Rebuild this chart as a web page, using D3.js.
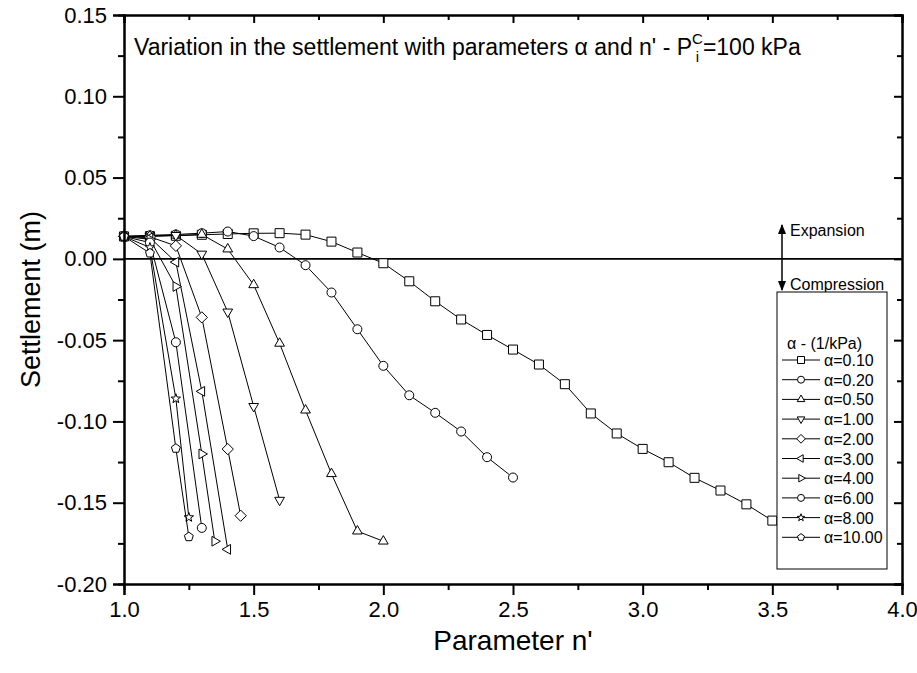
<!DOCTYPE html>
<html>
<head>
<meta charset="utf-8">
<script src="https://cdn.jsdelivr.net/npm/d3@7/dist/d3.min.js"></script>
<style>
  body { margin: 0; background: #fff; }
  svg { font-family: "Liberation Sans", Arial, sans-serif; }
  .axis path, .axis line { stroke: #000; }
</style>
</head>
<body>
<svg width="917" height="673"></svg>
<script>
// values (n' vs settlement in m)
var n_a010 = [1.0,1.1,1.2,1.3,1.4,1.5,1.6,1.7,1.8,1.9,2.0,2.1,2.2,2.3,2.4,2.5,2.6,2.7,2.8,2.9,3.0,3.1,3.2,3.3,3.4,3.5];
var s_a010 = [0.0138,0.0140,0.0142,0.0148,0.0153,0.0157,0.0158,0.0149,0.0106,0.0039,-0.0027,-0.0138,-0.0261,-0.0373,-0.0468,-0.0558,-0.0650,-0.0771,-0.0951,-0.1074,-0.1169,-0.1251,-0.1347,-0.1425,-0.1510,-0.1610];
var n_a020 = [1.0,1.1,1.2,1.3,1.4,1.5,1.6,1.7,1.8,1.9,2.0,2.1,2.2,2.3,2.4,2.5];
var s_a020 = [0.0138,0.0145,0.0150,0.0158,0.0168,0.0140,0.0070,-0.0039,-0.0207,-0.0433,-0.0658,-0.0839,-0.0947,-0.1062,-0.1220,-0.1345];
var n_a050 = [1.0,1.1,1.2,1.3,1.4,1.5,1.6,1.7,1.8,1.9,2.0];
var s_a050 = [0.0138,0.0140,0.0145,0.0150,0.0060,-0.0160,-0.0520,-0.0931,-0.1322,-0.1675,-0.1737];
var n_a100 = [1.0,1.1,1.2,1.3,1.4,1.5,1.6];
var s_a100 = [0.0138,0.0140,0.0145,0.0030,-0.0326,-0.0907,-0.1484];
var n_a200 = [1.0,1.1,1.2,1.3,1.4,1.45];
var s_a200 = [0.0138,0.0135,0.0080,-0.0360,-0.1170,-0.1580];
var n_a300 = [1.0,1.1,1.2,1.3,1.4];
var s_a300 = [0.0138,0.0130,-0.0020,-0.0815,-0.1787];
var n_a400 = [1.0,1.1,1.2,1.3,1.35];
var s_a400 = [0.0138,0.0120,-0.0170,-0.1200,-0.1737];
var n_a600 = [1.0,1.1,1.2,1.3];
var s_a600 = [0.0138,0.0100,-0.0513,-0.1655];
var n_a800 = [1.0,1.1,1.2,1.25];
var s_a800 = [0.0138,0.0070,-0.0860,-0.1590];
var n_a1000 = [1.0,1.1,1.2,1.25];
var s_a1000 = [0.0138,0.0035,-0.1166,-0.1710];

var seriesLabels = ["α=0.10","α=0.20","α=0.50","α=1.00","α=2.00","α=3.00","α=4.00","α=6.00","α=8.00","α=10.00"];
var seriesMarkers = ["square","circle","triUp","triDown","diamond","triLeft","triRight","circle","star","pentagon"];
var xTicks = [1.0,1.5,2.0,2.5,3.0,3.5,4.0];
var yTicks = [-0.20,-0.15,-0.10,-0.05,0.00,0.05,0.10,0.15];

var seriesN = [n_a010,n_a020,n_a050,n_a100,n_a200,n_a300,n_a400,n_a600,n_a800,n_a1000];
var seriesS = [s_a010,s_a020,s_a050,s_a100,s_a200,s_a300,s_a400,s_a600,s_a800,s_a1000];

var svg = d3.select("svg");
var L = 124, R = 902, T = 15, B = 584;

var x = d3.scaleLinear().domain([1, 4]).range([L, R]);
var y = d3.scaleLinear().domain([-0.2, 0.15]).range([B, T]);

// marker shapes, r ~ half size
function markerPath(type, r) {
  var p = d3.path();
  if (type == "square") { p.rect(-r, -r, 2*r, 2*r); }
  else if (type == "circle") { p.arc(0, 0, r, 0, 2*Math.PI); p.closePath(); }
  else if (type == "diamond") { p.moveTo(0,-r*1.25); p.lineTo(r*1.25,0); p.lineTo(0,r*1.25); p.lineTo(-r*1.25,0); p.closePath(); }
  else if (type == "star" || type == "pentagon") {
    var k = type == "star" ? 10 : 5;
    for (var i = 0; i < k; i++) {
      var a = -Math.PI/2 + i*2*Math.PI/k;
      var rr = (type == "star" && i % 2) ? r*0.45 : r*(type == "star" ? 1.1 : 1.05);
      if (i == 0) p.moveTo(rr*Math.cos(a), rr*Math.sin(a)); else p.lineTo(rr*Math.cos(a), rr*Math.sin(a));
    }
    p.closePath();
  } else {
    var rot = {triUp: -90, triDown: 90, triLeft: 180, triRight: 0}[type] * Math.PI/180;
    var rr = r*1.25;
    for (var i = 0; i < 3; i++) {
      var a = rot + i*2*Math.PI/3;
      if (i == 0) p.moveTo(rr*Math.cos(a), rr*Math.sin(a)); else p.lineTo(rr*Math.cos(a), rr*Math.sin(a));
    }
    p.closePath();
  }
  return p.toString();
}

var line = d3.line().x(function(d) { return x(d[0]); }).y(function(d) { return y(d[1]); });

// zero line
svg.append("line")
    .attr("x1", x(1)).attr("x2", x(4))
    .attr("y1", y(0)).attr("y2", y(0))
    .attr("stroke", "#000").attr("stroke-width", 1.6);

seriesN.forEach(function(ns, k) {
  var pts = ns.map(function(n, i) { return [n, seriesS[k][i]]; });
  var g = svg.append("g");
  g.append("path").datum(pts)
      .attr("d", line)
      .attr("fill", "none").attr("stroke", "#000").attr("stroke-width", 1);
  g.selectAll("path.m").data(pts).enter().append("path")
      .attr("class", "m")
      .attr("d", markerPath(seriesMarkers[k], 4.5))
      .attr("transform", function(d) { return "translate(" + x(d[0]) + "," + y(d[1]) + ")"; })
      .attr("fill", "#fff").attr("stroke", "#000").attr("stroke-width", 1);
});

// axes
var xMinor = d3.range(1.25, 4, 0.5);
var yMinor = d3.range(-0.175, 0.15, 0.05);
var fmt1 = function(d) { return d3.format(".1f")(d).replace("−", "-"); };
var fmt2 = function(d) { return d3.format(".2f")(d).replace("−", "-"); };

function styleAxis(g) {
  g.attr("class", "axis");
  g.select(".domain").attr("stroke-width", 2);
  g.selectAll(".tick line").attr("stroke-width", 2);
  g.selectAll("text").attr("fill", "#000").style("font-size", "22px");
}

svg.append("g").attr("transform", "translate(0," + B + ")")
    .call(d3.axisBottom(x).tickValues(xTicks).tickSize(11).tickPadding(6).tickFormat(fmt1))
    .call(styleAxis);
svg.append("g").attr("transform", "translate(0," + B + ")")
    .call(d3.axisBottom(x).tickValues(xMinor).tickSize(6).tickFormat(""))
    .call(styleAxis);
svg.append("g").attr("transform", "translate(" + L + ",0)")
    .call(d3.axisLeft(y).tickValues(yTicks).tickSize(11).tickPadding(6).tickFormat(fmt2))
    .call(styleAxis);
svg.append("g").attr("transform", "translate(" + L + ",0)")
    .call(d3.axisLeft(y).tickValues(yMinor).tickSize(6).tickFormat(""))
    .call(styleAxis);
// top and right, ticks inward
svg.append("g").attr("transform", "translate(0," + T + ")")
    .call(d3.axisBottom(x).tickValues(xTicks).tickSize(8).tickFormat(""))
    .call(styleAxis);
svg.append("g").attr("transform", "translate(0," + T + ")")
    .call(d3.axisBottom(x).tickValues(xMinor).tickSize(5).tickFormat(""))
    .call(styleAxis);
svg.append("g").attr("transform", "translate(" + R + ",0)")
    .call(d3.axisRight(y).tickValues(yTicks).tickSize(-8).tickFormat(""))
    .call(styleAxis);
svg.append("g").attr("transform", "translate(" + R + ",0)")
    .call(d3.axisRight(y).tickValues(yMinor).tickSize(-5).tickFormat(""))
    .call(styleAxis);

// axis titles
svg.append("text")
    .attr("x", (L + R) / 2).attr("y", 650)
    .attr("text-anchor", "middle").style("font-size", "28px")
    .text("Parameter n'");
svg.append("text")
    .attr("transform", "translate(40," + ((T + B) / 2) + ") rotate(-90)")
    .attr("text-anchor", "middle").style("font-size", "27px")
    .text("Settlement (m)");

// title with stacked super/subscript on P
var title = svg.append("text").attr("x", 134).attr("y", 55).style("font-size", "23px");
title.append("tspan").text("Variation in the settlement with parameters α and n' - P");
var supC = title.append("tspan").attr("dy", -11).style("font-size", "15px").text("C");
var subI = title.append("tspan").attr("dy", 18).style("font-size", "15px").text("i");
var rest = title.append("tspan").attr("dy", -7).text("=100 kPa");
var cw = supC.node().getComputedTextLength(), iw = subI.node().getComputedTextLength();
subI.attr("dx", -cw + (cw - iw) / 2);
rest.attr("dx", (cw - iw) / 2);

// expansion / compression arrow
var ax = 782;
svg.append("defs").append("marker")
    .attr("id", "ah").attr("viewBox", "0 0 10 10").attr("refX", 9).attr("refY", 5)
    .attr("markerWidth", 7).attr("markerHeight", 7).attr("orient", "auto-start-reverse")
  .append("path").attr("d", "M0,1 L10,5 L0,9 Z").attr("fill", "#000");
svg.append("line")
    .attr("x1", ax).attr("x2", ax).attr("y1", 225).attr("y2", 290)
    .attr("stroke", "#000").attr("stroke-width", 1.5)
    .attr("marker-start", "url(#ah)").attr("marker-end", "url(#ah)");
svg.append("text").attr("x", 790).attr("y", 236).style("font-size", "16px").text("Expansion");
svg.append("text").attr("x", 790).attr("y", 290).style("font-size", "16px").text("Compression");

// legend
var lg = svg.append("g");
lg.append("rect")
    .attr("x", 777).attr("y", 292).attr("width", 110).attr("height", 277)
    .attr("fill", "#fff").attr("stroke", "#000").attr("stroke-width", 1);
lg.append("text").attr("x", 787).attr("y", 349).style("font-size", "16px").text("α - (1/kPa)");
seriesLabels.forEach(function(lab, k) {
  var cy = 360 + k * 19.7;
  lg.append("line").attr("x1", 782).attr("x2", 820).attr("y1", cy).attr("y2", cy)
      .attr("stroke", "#000").attr("stroke-width", 1);
  lg.append("path").attr("d", markerPath(seriesMarkers[k], 3.5))
      .attr("transform", "translate(801," + cy + ")")
      .attr("fill", "#fff").attr("stroke", "#000").attr("stroke-width", 1);
  lg.append("text").attr("x", 824).attr("y", cy + 6).style("font-size", "16px").text(lab);
});
</script>
</body>
</html>
